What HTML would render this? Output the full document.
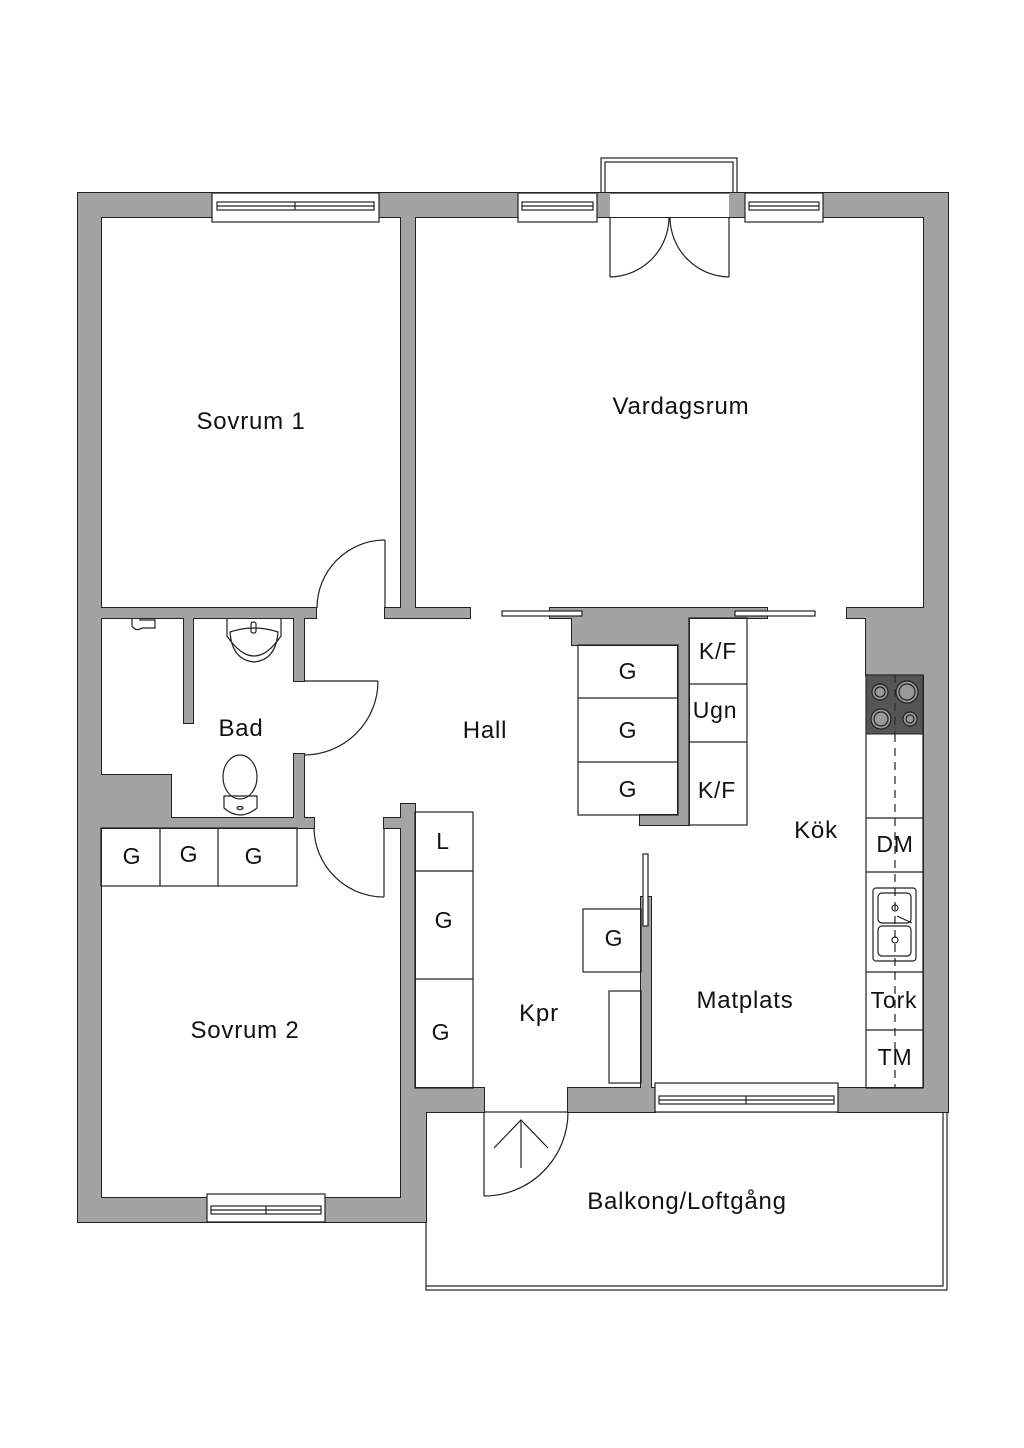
<!DOCTYPE html>
<html><head><meta charset="utf-8"><style>
html,body{margin:0;padding:0;background:#fff}
svg{display:block}
text{font-family:"Liberation Sans",sans-serif;fill:#111}
</style></head><body>
<svg width="1024" height="1448" viewBox="0 0 1024 1448" xmlns="http://www.w3.org/2000/svg">
<rect width="1024" height="1448" fill="#fff"/>
<rect x="426" y="1112" width="521" height="178" fill="#fff" stroke="#222" stroke-width="1.2"/>
<polyline points="426,1286 943,1286 943,1112" fill="none" stroke="#222" stroke-width="1.2"/>
<rect x="601" y="158" width="136" height="40" fill="#fff" stroke="#222" stroke-width="1.2"/>
<rect x="605" y="162" width="128" height="36" fill="none" stroke="#222" stroke-width="1.2"/>
<g id="walls">
<g fill="#a3a3a3" stroke="#222" stroke-width="2">
<rect x="78" y="193" width="870" height="24"/>
<rect x="78" y="193" width="23" height="1029"/>
<rect x="78" y="1198" width="348" height="24"/>
<rect x="924" y="193" width="24" height="919"/>
<rect x="401" y="217" width="14" height="401"/>
<rect x="385" y="608" width="85" height="10"/>
<rect x="101" y="608" width="215" height="10"/>
<rect x="184" y="618" width="9" height="105"/>
<rect x="294" y="618" width="10" height="63"/>
<rect x="294" y="754" width="10" height="74"/>
<rect x="101" y="818" width="213" height="10"/>
<rect x="101" y="775" width="70" height="43"/>
<rect x="384" y="818" width="17" height="10"/>
<rect x="401" y="804" width="14" height="418"/>
<rect x="415" y="1112" width="11" height="110"/>
<rect x="415" y="1088" width="69" height="24"/>
<rect x="568" y="1088" width="87" height="24"/>
<rect x="838" y="1088" width="86" height="24"/>
<rect x="847" y="608" width="77" height="10"/>
<rect x="866" y="608" width="58" height="67"/>
<rect x="550" y="608" width="217" height="10"/>
<rect x="572" y="608" width="117" height="37"/>
<rect x="678" y="608" width="11" height="217"/>
<rect x="640" y="815" width="49" height="10"/>
<rect x="641" y="897" width="10" height="191"/>
</g>
<g fill="#a3a3a3">
<rect x="78" y="193" width="870" height="24"/>
<rect x="78" y="193" width="23" height="1029"/>
<rect x="78" y="1198" width="348" height="24"/>
<rect x="924" y="193" width="24" height="919"/>
<rect x="401" y="217" width="14" height="401"/>
<rect x="385" y="608" width="85" height="10"/>
<rect x="101" y="608" width="215" height="10"/>
<rect x="184" y="618" width="9" height="105"/>
<rect x="294" y="618" width="10" height="63"/>
<rect x="294" y="754" width="10" height="74"/>
<rect x="101" y="818" width="213" height="10"/>
<rect x="101" y="775" width="70" height="43"/>
<rect x="384" y="818" width="17" height="10"/>
<rect x="401" y="804" width="14" height="418"/>
<rect x="415" y="1112" width="11" height="110"/>
<rect x="415" y="1088" width="69" height="24"/>
<rect x="568" y="1088" width="87" height="24"/>
<rect x="838" y="1088" width="86" height="24"/>
<rect x="847" y="608" width="77" height="10"/>
<rect x="866" y="608" width="58" height="67"/>
<rect x="550" y="608" width="217" height="10"/>
<rect x="572" y="608" width="117" height="37"/>
<rect x="678" y="608" width="11" height="217"/>
<rect x="640" y="815" width="49" height="10"/>
<rect x="641" y="897" width="10" height="191"/>
</g>
</g>
<g fill="#fff" stroke="#222" stroke-width="1.2">
<rect x="212" y="193" width="167" height="29"/>
<rect x="217" y="202" width="157" height="8"/>
<line x1="217" y1="206" x2="374" y2="206"/><line x1="295" y1="202" x2="295" y2="210"/>
<rect x="518" y="193" width="79" height="29"/>
<rect x="522" y="202" width="71" height="8"/><line x1="522" y1="206" x2="593" y2="206"/>
<rect x="745" y="193" width="78" height="29"/>
<rect x="749" y="202" width="70" height="8"/><line x1="749" y1="206" x2="819" y2="206"/>
<rect x="207" y="1194" width="118" height="28"/>
<rect x="211" y="1206" width="110" height="8"/><line x1="211" y1="1210" x2="321" y2="1210"/><line x1="266" y1="1206" x2="266" y2="1214"/>
<rect x="655" y="1083" width="183" height="29"/>
<rect x="659" y="1096" width="175" height="8"/><line x1="659" y1="1100" x2="834" y2="1100"/><line x1="746" y1="1096" x2="746" y2="1104"/>
<rect x="610" y="193" width="119" height="24" stroke="none"/>
<line x1="610" y1="193" x2="729" y2="193"/>
<rect x="502" y="611" width="80" height="5"/>
<rect x="735" y="611" width="80" height="5"/>
<rect x="643" y="854" width="5" height="72"/>
</g>
<g fill="none" stroke="#222" stroke-width="1.2">
<line x1="610" y1="217" x2="610" y2="277"/>
<line x1="729" y1="217" x2="729" y2="277"/>
<path d="M610,277 A60,60 0 0 0 669,218"/>
<path d="M729,277 A60,60 0 0 1 670,218"/>
<line x1="385" y1="540" x2="385" y2="608"/>
<path d="M385,540 A68,68 0 0 0 317,608"/>
<line x1="304" y1="681" x2="378" y2="681"/>
<path d="M378,681 A74,74 0 0 1 304,755"/>
<line x1="384" y1="828" x2="384" y2="897"/>
<path d="M314,828 A70,70 0 0 0 384,897"/>
<line x1="484" y1="1112" x2="484" y2="1196"/>
<path d="M568,1112 A84,84 0 0 1 484,1196"/>
<line x1="521" y1="1168" x2="521" y2="1120"/>
<polyline points="494,1148 521,1120 548,1148"/>
<rect x="101" y="828" width="196" height="58"/>
<line x1="160" y1="828" x2="160" y2="886"/><line x1="218" y1="828" x2="218" y2="886"/>
<rect x="415" y="812" width="58" height="276"/>
<line x1="415" y1="871" x2="473" y2="871"/><line x1="415" y1="979" x2="473" y2="979"/>
<rect x="578" y="645" width="100" height="170"/>
<line x1="578" y1="698" x2="678" y2="698"/><line x1="578" y1="762" x2="678" y2="762"/>
<rect x="689" y="618" width="58" height="207"/>
<line x1="689" y1="684" x2="747" y2="684"/><line x1="689" y1="742" x2="747" y2="742"/>
<rect x="583" y="909" width="58" height="63"/>
<rect x="609" y="991" width="32" height="92"/>
<rect x="866" y="675" width="57" height="413"/>
<line x1="866" y1="818" x2="923" y2="818"/>
<line x1="866" y1="872" x2="923" y2="872"/>
<line x1="866" y1="972" x2="923" y2="972"/>
<line x1="866" y1="1030" x2="923" y2="1030"/>
<line x1="895" y1="734" x2="895" y2="1088" stroke-dasharray="8,6"/>
<rect x="873" y="888" width="43" height="73" rx="3"/>
<rect x="878" y="893" width="33" height="30" rx="4"/>
<rect x="878" y="926" width="33" height="30" rx="4"/>
<circle cx="895" cy="908" r="3"/><circle cx="895" cy="940" r="3"/>
<line x1="897" y1="916" x2="912" y2="923"/>
<path d="M227,618 L227,636 Q254,676 281,636 L281,618"/>
<path d="M230,632 Q232,660 254,662 Q276,660 278,632 Q254,624 230,632 Z"/>
<rect x="251" y="622" width="5" height="11" rx="2"/>
<ellipse cx="240" cy="777" rx="17" ry="22"/>
<path d="M224,796 L224,808 Q240,822 257,808 L257,796 Z"/>
<ellipse cx="240" cy="808" rx="3" ry="1.5"/>
<path d="M132,618 L132,626 Q136,632 142,628 L155,628 L155,620 L140,620 L140,618"/>
</g>
<rect x="866" y="675" width="57" height="59" fill="#555" stroke="#222"/>
<g fill="#999" stroke="#222" stroke-width="1.2">
<circle cx="880" cy="692" r="8"/><circle cx="880" cy="692" r="5"/>
<circle cx="907" cy="692" r="11"/><circle cx="907" cy="692" r="8"/>
<circle cx="881" cy="719" r="10"/><circle cx="881" cy="719" r="7"/>
<circle cx="910" cy="719" r="7"/><circle cx="910" cy="719" r="4"/>
</g>
<line x1="895" y1="675" x2="895" y2="734" stroke="#222" stroke-dasharray="8,6"/>
<g font-size="24" text-anchor="middle" letter-spacing="0.8">
<text x="251" y="429">Sovrum 1</text>
<text x="681" y="414">Vardagsrum</text>
<text x="241" y="736">Bad</text>
<text x="485" y="738">Hall</text>
<text x="816" y="838">Kök</text>
<text x="245" y="1038">Sovrum 2</text>
<text x="539" y="1021">Kpr</text>
<text x="745" y="1008">Matplats</text>
<text x="687" y="1209">Balkong/Loftgång</text>
</g>
<g font-size="23" text-anchor="middle" letter-spacing="0.8">
<text x="132" y="864">G</text><text x="189" y="862">G</text><text x="254" y="864">G</text>
<text x="443" y="849">L</text><text x="444" y="928">G</text><text x="441" y="1040">G</text>
<text x="628" y="679">G</text><text x="628" y="738">G</text><text x="628" y="797">G</text>
<text x="718" y="659">K/F</text><text x="715" y="718">Ugn</text><text x="717" y="798">K/F</text>
<text x="614" y="946">G</text>
<text x="895" y="852">DM</text><text x="894" y="1008">Tork</text><text x="895" y="1065">TM</text>
</g>
</svg>
</body></html>
